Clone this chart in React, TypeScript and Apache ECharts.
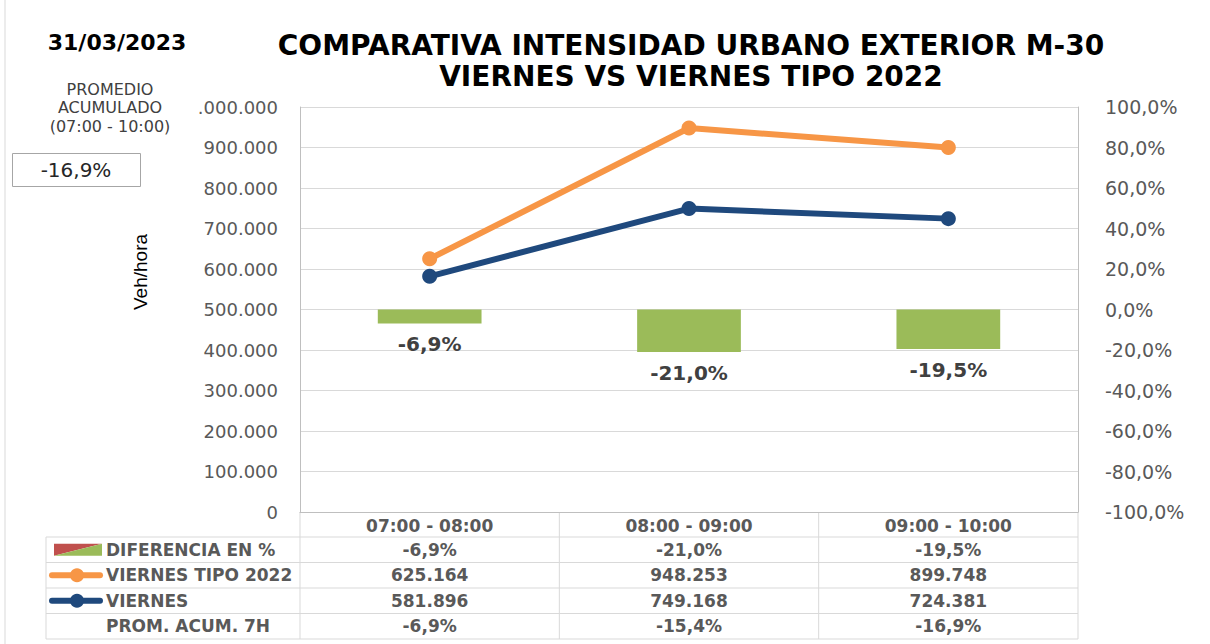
import React, { useEffect, useRef } from "react";
import * as echarts from "echarts";

const categories = ["07:00 - 08:00", "08:00 - 09:00", "09:00 - 10:00"];
const diferencia = [-0.069, -0.21, -0.195];
const viernesTipo2022 = [625164, 948253, 899748];
const viernes = [581896, 749168, 724381];
const promAcum = [-0.069, -0.154, -0.169];
const promedioAcumulado = -0.169;
const fecha = "31/03/2023";
const titleLines = ["COMPARATIVA INTENSIDAD URBANO EXTERIOR M-30", "VIERNES VS VIERNES TIPO 2022"];
const rowLabels = ["DIFERENCIA EN %", "VIERNES TIPO 2022", "VIERNES", "PROM. ACUM. 7H"];
const yAxisName = "Veh/hora";
const promedioLines = ["PROMEDIO", "ACUMULADO", "(07:00 - 10:00)"];

const W = 1210;
const H = 644;
const plotL = 300;
const plotR = 1078;
const plotT = 107;
const plotB = 512;
const tableL = 46;
const rowH = 25.5;
const headerH = 25;

const GREEN = "#9BBB59";
const RED = "#C0504D";
const ORANGE = "#F79646";
const NAVY = "#1F497D";
const GRID = "#D9D9D9";
const TXT = "#595959";
const FONT = "DejaVu Sans, Verdana, sans-serif";

const fmtPct = (v: number) => {
  const r = Math.round(v * 1000) / 10;
  return (r === 0 ? "0,0" : r.toFixed(1).replace(".", ",")) + "%";
};
const fmtThousands = (v: number) => {
  const s = Math.round(v).toString();
  return s.replace(/\B(?=(\d{3})+(?!\d))/g, ".");
};

export default function App() {
  const ref = useRef<HTMLDivElement>(null);
  useEffect(() => {
    if (!ref.current) return;
    const chart = echarts.init(ref.current, undefined, { renderer: "svg" });
    const colW = (plotR - plotL) / categories.length;
    const colCenters = categories.map((_, i) => plotL + colW * (i + 0.5));
    const firstRowTop = plotB + headerH;
    const rowTops = rowLabels.map((_, i) => firstRowTop + i * rowH);
    const tableBottom = firstRowTop + rowLabels.length * rowH;
    const rowValues = [
      diferencia.map(fmtPct),
      viernesTipo2022.map(fmtThousands),
      viernes.map(fmtThousands),
      promAcum.map(fmtPct),
    ];

    const graphics: any[] = [];
    graphics.push({ type: "line", shape: { x1: 5, y1: 0, x2: 5, y2: H }, style: { stroke: GRID, lineWidth: 1 } });
    for (let i = 0; i <= rowLabels.length; i++) {
      const y = firstRowTop + i * rowH;
      graphics.push({ type: "line", shape: { x1: tableL, y1: y, x2: plotR, y2: y }, style: { stroke: GRID, lineWidth: 1 } });
    }
    graphics.push({ type: "line", shape: { x1: tableL, y1: firstRowTop, x2: tableL, y2: tableBottom }, style: { stroke: GRID, lineWidth: 1 } });
    for (let i = 0; i <= categories.length; i++) {
      const x = plotL + i * colW;
      graphics.push({ type: "line", shape: { x1: x, y1: plotB, x2: x, y2: tableBottom }, style: { stroke: GRID, lineWidth: 1 } });
    }
    rowLabels.forEach((lab, r) => {
      const cy = rowTops[r] + rowH / 2;
      graphics.push({
        type: "text",
        x: 106,
        y: cy,
        style: { text: lab, fill: TXT, font: `bold 17px ${FONT}`, textAlign: "left", textVerticalAlign: "middle" },
      });
      rowValues[r].forEach((v, c) => {
        graphics.push({
          type: "text",
          x: colCenters[c],
          y: cy,
          style: { text: v, fill: TXT, font: `bold 17px ${FONT}`, textAlign: "center", textVerticalAlign: "middle" },
        });
      });
    });
    const k0 = rowTops[0] + rowH / 2;
    graphics.push({ type: "polygon", shape: { points: [[54, k0 - 6], [102, k0 - 6], [54, k0 + 6]] }, style: { fill: RED } });
    graphics.push({ type: "polygon", shape: { points: [[102, k0 - 6], [102, k0 + 6], [54, k0 + 6]] }, style: { fill: GREEN } });
    [ORANGE, NAVY].forEach((col, i) => {
      const cy = rowTops[i + 1] + rowH / 2;
      graphics.push({ type: "line", shape: { x1: 52, y1: cy, x2: 100, y2: cy }, style: { stroke: col, lineWidth: 6, lineCap: "round" } });
      graphics.push({ type: "circle", shape: { cx: 77, cy, r: 7 }, style: { fill: col } });
    });
    graphics.push({ type: "text", x: 117, y: 42, style: { text: fecha, fill: "#000", font: `bold 22px ${FONT}`, textAlign: "center", textVerticalAlign: "middle" } });
    promedioLines.forEach((t, i) => {
      graphics.push({ type: "text", x: 110, y: 89 + i * 18.5, style: { text: t, fill: "#404040", font: `16px ${FONT}`, textAlign: "center", textVerticalAlign: "middle" } });
    });
    graphics.push({ type: "rect", shape: { x: 12.5, y: 153.5, width: 128, height: 33 }, style: { fill: "#fff", stroke: "#A6A6A6", lineWidth: 1 } });
    graphics.push({ type: "text", x: 76, y: 170, style: { text: fmtPct(promedioAcumulado), fill: "#262626", font: `20px ${FONT}`, textAlign: "center", textVerticalAlign: "middle" } });
    graphics.push({
      type: "text",
      x: 140,
      y: 272,
      rotation: Math.PI / 2,
      style: { text: yAxisName, fill: "#000", font: `19px Liberation Sans Narrow, Arial Narrow, sans-serif`, textAlign: "center", textVerticalAlign: "middle" },
    });

    chart.setOption({
      animation: false,
      backgroundColor: "#fff",
      title: {
        text: titleLines.join("\n"),
        left: 686,
        top: 25,
        textAlign: "center",
        textStyle: { fontFamily: FONT, fontWeight: "bold", fontSize: 28, color: "#000", lineHeight: 31 },
      },
      grid: { left: plotL, right: W - plotR, top: plotT, bottom: H - plotB, containLabel: false },
      xAxis: {
        type: "category",
        data: categories,
        axisLine: { show: true, lineStyle: { color: "#BFBFBF" } },
        axisTick: { show: false },
        axisLabel: { color: TXT, fontFamily: FONT, fontWeight: "bold", fontSize: 17, margin: 5 },
        splitLine: { show: false },
      },
      yAxis: [
        {
          type: "value",
          min: 0,
          max: 1000000,
          interval: 100000,
          axisLine: { show: true, lineStyle: { color: "#BFBFBF" } },
          axisTick: { show: false },
          axisLabel: {
            color: TXT,
            fontFamily: FONT,
            fontSize: 18,
            margin: 22,
            formatter: (v: number) => (v >= 1000000 ? "." + fmtThousands(v).slice(2) : fmtThousands(v)),
          },
          splitLine: { show: true, lineStyle: { color: GRID } },
        },
        {
          type: "value",
          min: -1,
          max: 1,
          interval: 0.2,
          position: "right",
          axisLine: { show: true, lineStyle: { color: "#BFBFBF" } },
          axisTick: { show: false },
          axisLabel: { color: TXT, fontFamily: FONT, fontSize: 19, margin: 27, align: "left", formatter: (v: number) => fmtPct(v) },
          splitLine: { show: false },
        },
      ],
      series: [
        {
          name: "DIFERENCIA EN %",
          type: "bar",
          yAxisIndex: 1,
          data: diferencia,
          barWidth: "40%",
          itemStyle: { color: GREEN },
          label: {
            show: true,
            position: "bottom",
            distance: 11,
            formatter: (p: any) => fmtPct(p.value),
            color: "#404040",
            fontFamily: FONT,
            fontWeight: "bold",
            fontSize: 20,
          },
        },
        {
          name: "VIERNES TIPO 2022",
          type: "line",
          yAxisIndex: 0,
          data: viernesTipo2022,
          symbol: "circle",
          symbolSize: 15,
          lineStyle: { color: ORANGE, width: 6 },
          itemStyle: { color: ORANGE },
          z: 5,
        },
        {
          name: "VIERNES",
          type: "line",
          yAxisIndex: 0,
          data: viernes,
          symbol: "circle",
          symbolSize: 15,
          lineStyle: { color: NAVY, width: 6 },
          itemStyle: { color: NAVY },
          z: 5,
        },
      ],
      graphic: graphics,
    });
    return () => chart.dispose();
  }, []);
  return <div ref={ref} style={{ position: "fixed", left: 0, top: 0, width: W, height: H }} />;
}
